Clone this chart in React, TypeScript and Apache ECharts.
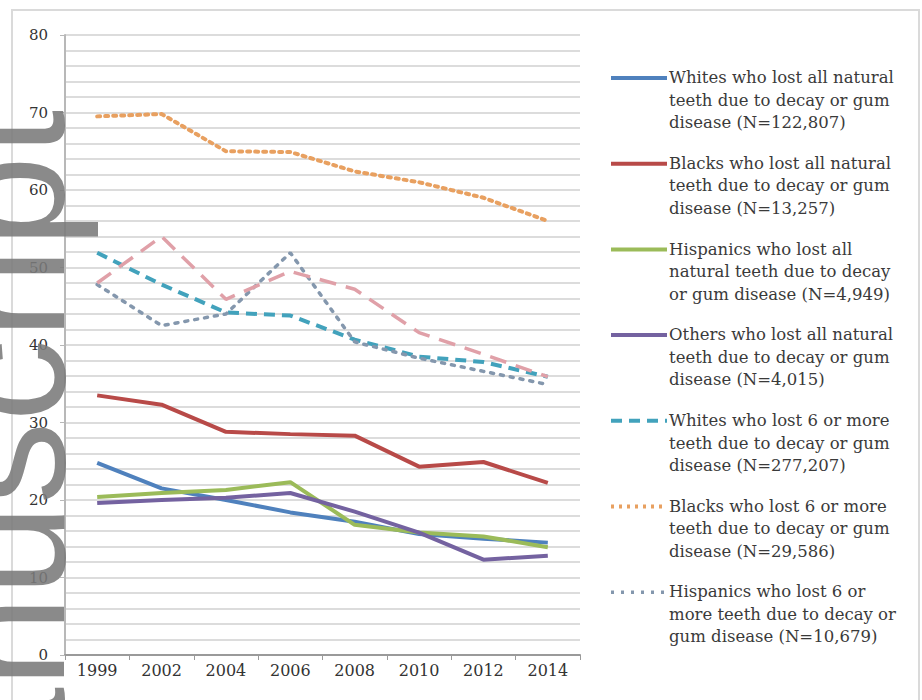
import React, { useEffect, useRef } from "react";
import * as echarts from "echarts";

const years = ["1999", "2002", "2004", "2006", "2008", "2010", "2012", "2014"];
const yTicks = [0, 10, 20, 30, 40, 50, 60, 70, 80];

const whitesAll = [24.8, 21.5, 20.0, 18.4, 17.2, 15.6, 15.0, 14.5];
const blacksAll = [33.5, 32.3, 28.8, 28.5, 28.3, 24.3, 24.9, 22.2];
const hispanicsAll = [20.4, 20.9, 21.3, 22.3, 16.8, 15.8, 15.3, 13.9];
const othersAll = [19.6, 20.0, 20.3, 20.9, 18.5, 15.8, 12.3, 12.8];
const whites6 = [51.9, 47.8, 44.2, 43.8, 40.7, 38.5, 37.8, 35.9];
const blacks6 = [69.5, 69.8, 65.0, 64.9, 62.4, 61.0, 59.0, 56.0];
const hispanics6 = [47.8, 42.5, 44.0, 51.9, 40.4, 38.3, 36.6, 34.9];
const others6 = [48.0, 54.0, 45.9, 49.5, 47.2, 41.6, 38.8, 35.9];

const seriesNames = [
  "Whites who lost all natural\nteeth due to decay or gum\ndisease (N=122,807)",
  "Blacks who lost all natural\nteeth due to decay or gum\ndisease (N=13,257)",
  "Hispanics who lost all\nnatural teeth due to decay\nor gum disease (N=4,949)",
  "Others who lost all natural\nteeth due to decay or gum\ndisease (N=4,015)",
  "Whites who lost 6 or more\nteeth due to decay or gum\ndisease (N=277,207)",
  "Blacks who lost 6 or more\nteeth due to decay or gum\ndisease (N=29,586)",
  "Hispanics who lost 6 or\nmore teeth due to decay or\ngum disease (N=10,679)",
  "Others who lost 6 or more teeth due to decay or gum disease",
];

const seriesValues = [whitesAll, blacksAll, hispanicsAll, othersAll, whites6, blacks6, hispanics6, others6];
const seriesColors = ["#4f81bd", "#b84a48", "#9bbb59", "#7462a0", "#42a2bc", "#e8a060", "#8497ad", "#e0a0a8"];
const seriesWidths = [4, 4, 4, 4, 4, 4, 3.5, 3.5];
const seriesDash: (number[] | null)[] = [null, null, null, null, [11, 7], [3, 5], [3, 7], [17, 10]];
const legendCount = 7;

const FONT = '"DejaVu Serif", "Liberation Serif", serif';

export default function App() {
  const ref = useRef<HTMLDivElement>(null);

  useEffect(() => {
    document.body.style.margin = "0";
    const chart = echarts.init(ref.current!, null, { renderer: "svg" });

    const legendEls: any[] = [];
    for (let i = 0; i < legendCount; i++) {
      const cy = 78 + i * 85.7;
      legendEls.push({
        type: "line",
        shape: { x1: 611, y1: cy, x2: 667, y2: cy },
        style: {
          stroke: seriesColors[i],
          lineWidth: seriesWidths[i],
          lineDash: seriesDash[i] || undefined,
        },
      });
      legendEls.push({
        type: "text",
        x: 669,
        y: cy - 11.5,
        style: {
          text: seriesNames[i],
          fontFamily: FONT,
          fontSize: 16.5,
          lineHeight: 22.5,
          fill: "#3a3a3a",
          verticalAlign: "top",
        },
      });
    }

    chart.setOption({
      animation: false,
      backgroundColor: "#ffffff",
      grid: { left: 65, right: 342, top: 35, bottom: 45, containLabel: false },
      xAxis: {
        type: "category",
        data: years,
        boundaryGap: true,
        axisLine: { show: true, lineStyle: { color: "#9a9a9a", width: 2 } },
        axisTick: { show: true, length: 5, lineStyle: { color: "#9a9a9a" } },
        axisLabel: { color: "#333", fontFamily: FONT, fontSize: 16, margin: 7 },
        splitLine: { show: false },
      },
      yAxis: {
        type: "value",
        min: yTicks[0],
        max: yTicks[yTicks.length - 1],
        interval: 10,
        axisLine: { show: true, lineStyle: { color: "#b8b8b8", width: 2 } },
        axisTick: { show: true, length: 5, lineStyle: { color: "#b8b8b8" } },
        axisLabel: { color: "#333", fontFamily: FONT, fontSize: 15, margin: 17 },
        splitLine: { show: true, lineStyle: { color: "#dcdcdc", width: 2 } },
        minorTick: { show: false, splitNumber: 5 },
        minorSplitLine: { show: true, lineStyle: { color: "#dcdcdc", width: 2 } },
      },
      series: seriesValues.map((vals, i) => ({
        name: seriesNames[i],
        type: "line",
        data: vals,
        symbol: "none",
        z: 2 + (i < 4 ? 1 : 0),
        lineStyle: {
          color: seriesColors[i],
          width: seriesWidths[i],
          type: seriesDash[i] || "solid",
          cap: seriesDash[i] && seriesDash[i]![0] < 5 ? "round" : "butt",
        },
      })),
      graphic: [
        {
          type: "rect",
          shape: { x: 12, y: 10, width: 907, height: 700 },
          style: { fill: "none", stroke: "#dadada", lineWidth: 2 },
          z: -1,
        },
        ...legendEls,
        {
          type: "text",
          x: 7,
          y: 110,
          rotation: Math.PI / 2,
          z: 100,
          style: {
            text: "Manuscript",
            fontFamily: '"Liberation Sans", Arial, sans-serif',
            fontSize: 165,
            fill: "#7a7a7a",
            opacity: 0.88,
            align: "right",
            verticalAlign: "middle",
          },
        },
      ],
    });

    return () => chart.dispose();
  }, []);

  return <div ref={ref} style={{ width: 922, height: 700 }} />;
}
